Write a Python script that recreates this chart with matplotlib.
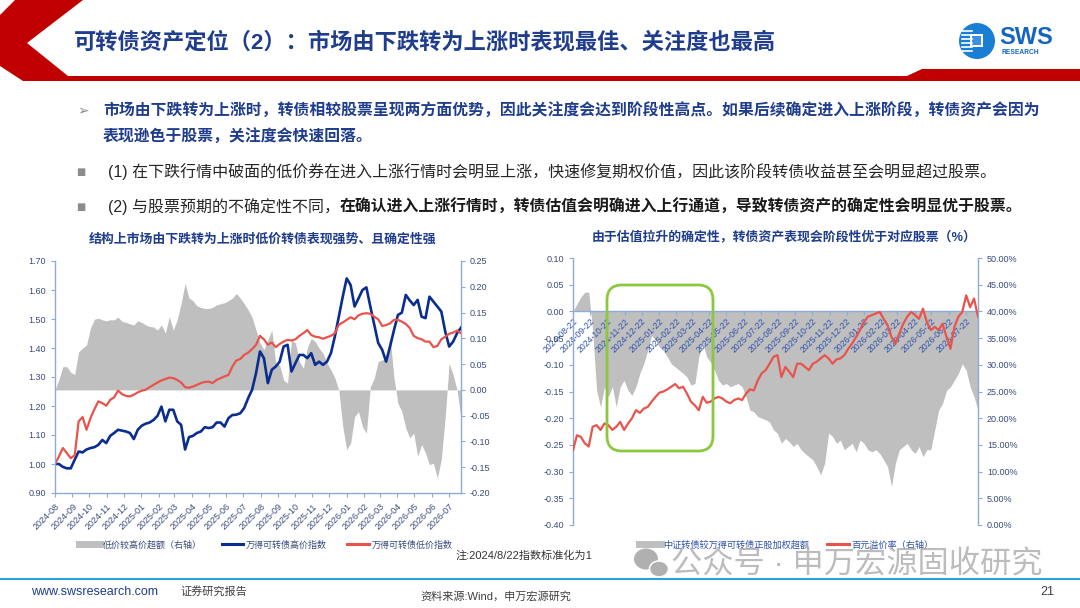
import pandas as pd
import matplotlib
matplotlib.use("Agg")
import matplotlib.pyplot as plt
from matplotlib.lines import Line2D
from matplotlib.patches import Polygon, FancyBboxPatch, Circle, Rectangle, Ellipse
from matplotlib.ticker import FormatStrFormatter, PercentFormatter

plt.rcParams['font.family'] = ['Liberation Sans', 'Noto Sans CJK SC', 'DejaVu Sans']
plt.rcParams['axes.unicode_minus'] = False

# ---- 数据（周频，2024-08-22 起） ----
months = ['2024-08', '2024-09', '2024-10', '2024-11', '2024-12', '2025-01', '2025-02', '2025-03',
          '2025-04', '2025-05', '2025-06', '2025-07', '2025-08', '2025-09', '2025-10', '2025-11',
          '2025-12', '2026-01', '2026-02', '2026-03', '2026-04', '2026-05', '2026-06', '2026-07']
right_tick_labels = [m + '-22' for m in months]

# 左图：万得可转债高价指数
high_price_idx = [1.00, 1.00, 0.99, 0.985, 0.985, 1.015, 1.043, 1.04, 1.05, 1.055,
                  1.058, 1.066, 1.083, 1.072, 1.097, 1.107, 1.118, 1.115, 1.112, 1.107,
                  1.086, 1.118, 1.132, 1.139, 1.143, 1.152, 1.166, 1.198, 1.147, 1.187,
                  1.187, 1.147, 1.135, 1.05, 1.093, 1.097, 1.107, 1.112, 1.127, 1.124,
                  1.127, 1.143, 1.143, 1.129, 1.158, 1.169, 1.17, 1.175, 1.193, 1.227,
                  1.256, 1.313, 1.388, 1.365, 1.279, 1.325, 1.336, 1.353, 1.405, 1.411,
                  1.319, 1.348, 1.376, 1.376, 1.365, 1.382, 1.342, 1.353, 1.342, 1.353,
                  1.382, 1.44, 1.508, 1.577, 1.64, 1.617, 1.543, 1.571, 1.60, 1.609,
                  1.543, 1.48, 1.417, 1.394, 1.353, 1.405, 1.462, 1.514, 1.522, 1.583,
                  1.564, 1.548, 1.566, 1.508, 1.503, 1.577, 1.56, 1.543, 1.526, 1.457,
                  1.405, 1.422, 1.451, 1.47]
# 左图：万得可转债低价指数
low_price_idx = [1.00, 1.026, 1.055, 1.038, 1.02, 1.03, 1.147, 1.162, 1.118, 1.158,
                 1.189, 1.216, 1.21, 1.201, 1.221, 1.23, 1.253, 1.241, 1.235, 1.233,
                 1.239, 1.247, 1.253, 1.256, 1.265, 1.273, 1.281, 1.288, 1.293, 1.298,
                 1.296, 1.29, 1.281, 1.265, 1.263, 1.267, 1.273, 1.279, 1.283, 1.284,
                 1.279, 1.29, 1.296, 1.302, 1.307, 1.336, 1.357, 1.362, 1.376, 1.384,
                 1.396, 1.411, 1.442, 1.43, 1.411, 1.419, 1.403, 1.414, 1.422, 1.428,
                 1.426, 1.43, 1.442, 1.451, 1.462, 1.445, 1.439, 1.437, 1.432, 1.437,
                 1.442, 1.451, 1.48, 1.488, 1.497, 1.506, 1.499, 1.513, 1.518, 1.52,
                 1.518, 1.508, 1.499, 1.476, 1.479, 1.485, 1.497, 1.497, 1.491, 1.483,
                 1.469, 1.442, 1.434, 1.43, 1.422, 1.422, 1.403, 1.407, 1.43, 1.439,
                 1.449, 1.453, 1.46, 1.451]
# 左图：低价较高价超额（右轴）
low_vs_high = [0.0, 0.02, 0.045, 0.045, 0.034, 0.03, 0.074, 0.081, 0.087, 0.12,
               0.137, 0.139, 0.136, 0.134, 0.136, 0.136, 0.141, 0.133, 0.131, 0.128,
               0.126, 0.134, 0.131, 0.126, 0.123, 0.122, 0.116, 0.126, 0.11, 0.142,
               0.116, 0.136, 0.168, 0.207, 0.178, 0.173, 0.163, 0.16, 0.158, 0.158,
               0.16, 0.165, 0.167, 0.169, 0.173, 0.178, 0.187, 0.178, 0.167, 0.155,
               0.141, 0.116, 0.091, 0.078, 0.097, 0.116, 0.052, 0.048, 0.019, 0.013,
               0.097, 0.091, 0.055, 0.042, 0.081, 0.1, 0.094, 0.081, 0.071, 0.052,
               0.039, 0.023, 0.0, -0.071, -0.116, -0.103, -0.052, -0.042, -0.071, -0.084,
               0.006, 0.023, 0.055, 0.058, 0.061, 0.103, 0.023, -0.026, -0.042, -0.074,
               -0.093, -0.084, -0.129, -0.106, -0.122, -0.145, -0.142, -0.171, -0.135, -0.052,
               0.052, 0.029, 0.0, -0.055]
# 右图：中证转债较万得可转债正股加权超额
cb_vs_stock = [0.0, 0.014, 0.027, 0.036, 0.036, -0.036, -0.148, -0.179, -0.141, -0.16,
               -0.141, -0.179, -0.141, -0.129, -0.148, -0.157, -0.141, -0.116, -0.098, -0.073,
               -0.045, -0.054, -0.067, -0.073, -0.085, -0.098, -0.104, -0.11, -0.116, -0.123,
               -0.138, -0.135, -0.085, -0.06, -0.085, -0.095, -0.11, -0.129, -0.138, -0.135,
               -0.141, -0.138, -0.135, -0.141, -0.16, -0.185, -0.188, -0.197, -0.2, -0.203,
               -0.207, -0.222, -0.228, -0.247, -0.238, -0.244, -0.253, -0.247, -0.259, -0.266,
               -0.272, -0.278, -0.291, -0.306, -0.284, -0.228, -0.234, -0.247, -0.241, -0.259,
               -0.253, -0.247, -0.263, -0.241, -0.247, -0.259, -0.263, -0.259, -0.266, -0.278,
               -0.291, -0.328, -0.284, -0.259, -0.253, -0.247, -0.259, -0.266, -0.253, -0.272,
               -0.259, -0.259, -0.222, -0.185, -0.172, -0.148, -0.141, -0.129, -0.116, -0.098,
               -0.11, -0.141, -0.16, -0.185]
# 右图：百元溢价率（右轴，%）
premium_100 = [14.0, 16.8, 16.5, 15.3, 14.7, 18.4, 18.7, 17.8, 19.0, 18.7,
               17.8, 18.4, 19.3, 17.8, 19.0, 20.0, 21.5, 21.0, 21.8, 22.1,
               23.1, 24.0, 24.8, 25.0, 25.4, 25.9, 26.4, 25.6, 25.9, 24.6,
               23.1, 22.4, 21.5, 24.0, 22.9, 23.1, 23.7, 24.0, 23.7, 23.1,
               22.8, 23.4, 23.7, 23.4, 24.6, 25.4, 25.2, 27.1, 28.4, 29.0,
               30.2, 31.5, 31.8, 27.7, 29.6, 28.7, 27.7, 30.2, 30.2, 29.6,
               29.0, 30.2, 30.6, 31.2, 31.8, 31.2, 30.2, 31.0, 31.2, 31.8,
               33.0, 34.0, 35.2, 36.5, 38.0, 39.0, 39.3, 39.6, 39.9, 38.6,
               37.4, 35.2, 34.0, 35.9, 37.7, 39.0, 39.9, 39.3, 38.6, 40.5,
               38.0, 36.5, 37.1, 36.5, 37.7, 35.2, 33.0, 37.1, 39.0, 39.9,
               43.0, 40.8, 42.4, 39.0]

dates = pd.date_range('2024-08-22', periods=len(high_price_idx), freq='7D')
tick_dates = pd.to_datetime(right_tick_labels)

# ---- 样式 ----
NAVY = '#1f3d8c'
BLUE = '#0a2d8f'
RED = '#e8544c'
GRAY = '#bfbfbf'
SPINE = '#8eaad6'
TICK = '#3c4a7a'
LEG = '#2f52ad'

W, H = 1080, 608
fig = plt.figure(figsize=(10.8, 6.08), dpi=100)
fig.patch.set_facecolor('white')

bg = fig.add_axes([0, 0, 1, 1], zorder=0)
bg.set_xlim(0, W)
bg.set_ylim(H, 0)
bg.axis('off')


def fig_rect(x0, y0, x1, y1):
    return [x0 / W, 1 - y1 / H, (x1 - x0) / W, (y1 - y0) / H]


# 页眉
bg.add_patch(Polygon([(15, 0), (83, 0), (27, 43), (68, 76), (907, 76), (922, 69),
                      (1080, 69), (1080, 81), (23, 81), (0, 66), (0, 15)],
                     closed=True, fc='#c00000', ec='none'))
bg.text(74, 43, '可转债资产定位（2）：市场由下跌转为上涨时表现最佳、关注度也最高',
        fontsize=16, weight='bold', color=NAVY, va='center')

# SWS logo
bg.add_patch(Circle((977, 41), 18, fc='#1a7fd4', ec='none'))
for yy in [31, 35, 39, 43, 47, 51]:
    bg.plot([962, 972], [yy, yy], color='white', lw=1.2)
bg.add_patch(Rectangle((970, 34), 13, 13, fc='white', ec='none'))
bg.add_patch(Rectangle((972, 36), 9, 9, fc='#3d8fe0', ec='none'))
bg.text(999, 37, 'SWS', fontsize=17, weight='bold', color='#1565c0', va='center')
bg.text(1001, 52, 'RESEARCH', fontsize=4.8, weight='bold', color='#1565c0', va='center')

# 正文要点
bg.text(77, 111, '➢', fontsize=10, color='#8c8c8c', va='center',
        family=['DejaVu Sans'])
bg.text(103, 111, '市场由下跌转为上涨时，转债相较股票呈现两方面优势，因此关注度会达到阶段性高点。如果后续确定进入上涨阶段，转债资产会因为',
        fontsize=11.4, weight='bold', color=NAVY, va='center')
bg.text(103, 137, '表现逊色于股票，关注度会快速回落。',
        fontsize=11.4, weight='bold', color=NAVY, va='center')
for yy in [172, 207]:
    bg.text(76, yy, '■', fontsize=7, color='#8c8c8c', va='center',
            family=['DejaVu Sans'])
bg.text(108, 172, '(1) 在下跌行情中破面的低价券在进入上涨行情时会明显上涨，快速修复期权价值，因此该阶段转债收益甚至会明显超过股票。',
        fontsize=11.5, color='#262626', va='center')
t1 = bg.text(108, 207, '(2) 与股票预期的不确定性不同，', fontsize=11.5, color='#262626', va='center')
bg.annotate('在确认进入上涨行情时，转债估值会明确进入上行通道，导致转债资产的确定性会明显优于股票。',
            xy=(1, 0.5), xycoords=t1, va='center', ha='left',
            fontsize=11.4, weight='bold', color='#1a1a1a')

# 图表标题
bg.text(263, 240, '结构上市场由下跌转为上涨时低价转债表现强势、且确定性强',
        fontsize=9.3, weight='bold', color=NAVY, ha='center', va='center')
bg.text(784, 237, '由于估值拉升的确定性，转债资产表现会阶段性优于对应股票（%）',
        fontsize=9.3, weight='bold', color=NAVY, ha='center', va='center')

# ---- 左图 ----
ax1 = fig.add_axes(fig_rect(55, 261, 461, 493), zorder=2)
ax1r = ax1.twinx()
ax1r.fill_between(dates, 0, low_vs_high, color=GRAY, lw=0)
ax1.plot(dates, high_price_idx, color=BLUE, lw=1.9)
ax1.plot(dates, low_price_idx, color=RED, lw=1.6)
ax1.set_zorder(ax1r.get_zorder() + 1)
ax1.patch.set_visible(False)

ax1.set_xlim(dates[0], dates[-1])
ax1.set_ylim(0.9, 1.7)
ax1.set_yticks([0.9 + 0.1 * i for i in range(9)])
ax1.yaxis.set_major_formatter(FormatStrFormatter('%.2f'))
ax1r.set_ylim(-0.20, 0.25)
ax1r.set_yticks([-0.20 + 0.05 * i for i in range(10)])
ax1r.yaxis.set_major_formatter(FormatStrFormatter('%.2f'))
ax1.set_xticks(tick_dates)
ax1.set_xticklabels(months, rotation=45, ha='right', rotation_mode='anchor')

for a in (ax1, ax1r):
    for s in a.spines.values():
        s.set_color(SPINE)
        s.set_linewidth(1)
    a.spines['top'].set_visible(False)
    a.tick_params(colors=SPINE, labelcolor=TICK, labelsize=6.5, length=3, width=0.8)
ax1.spines['right'].set_visible(False)
ax1r.spines['left'].set_visible(False)
ax1r.spines['bottom'].set_visible(False)

fig.legend([Line2D([], [], color=GRAY, lw=5), Line2D([], [], color=BLUE, lw=2.2),
            Line2D([], [], color=RED, lw=2.2)],
           ['低价较高价超额（右轴）', '万得可转债高价指数', '万得可转债低价指数'],
           loc='center left', bbox_to_anchor=(74 / W, 1 - 545 / H), ncol=3, frameon=False,
           fontsize=6.5, handlelength=2.4, handletextpad=0.3, columnspacing=2.2,
           labelcolor=TICK, borderpad=0)

# ---- 右图 ----
ax2 = fig.add_axes(fig_rect(573, 258, 978, 525), zorder=2)
ax2.fill_between(dates, 0, cb_vs_stock, color=GRAY, lw=0)
ax2r = ax2.twinx()
ax2r.plot(dates, premium_100, color=RED, lw=1.6)

ax2.set_xlim(dates[0], dates[-1])
ax2.set_ylim(-0.40, 0.10)
ax2.set_yticks([-0.40 + 0.05 * i for i in range(11)])
ax2.yaxis.set_major_formatter(FormatStrFormatter('%.2f'))
ax2r.set_ylim(0, 50)
ax2r.set_yticks([5 * i for i in range(11)])
ax2r.yaxis.set_major_formatter(PercentFormatter(xmax=100, decimals=2))
ax2.spines['bottom'].set_position(('data', 0))
ax2.set_xticks(tick_dates)
ax2.set_xticklabels(right_tick_labels, rotation=45, ha='right', rotation_mode='anchor')

for a in (ax2, ax2r):
    for s in a.spines.values():
        s.set_color(SPINE)
        s.set_linewidth(1)
    a.spines['top'].set_visible(False)
    a.tick_params(colors=SPINE, labelcolor=TICK, labelsize=6.5, length=3, width=0.8)
ax2.tick_params(axis='x', labelcolor=LEG, labelsize=6.2, pad=1)
ax2.spines['right'].set_visible(False)
ax2r.spines['left'].set_visible(False)
ax2r.spines['bottom'].set_visible(False)

fig.legend([Line2D([], [], color=GRAY, lw=5), Line2D([], [], color=RED, lw=2.2)],
           ['中证转债较万得可转债正股加权超额', '百元溢价率（右轴）'],
           loc='center left', bbox_to_anchor=(634 / W, 1 - 545 / H), ncol=2, frameon=False,
           fontsize=6.6, handlelength=2.4, handletextpad=0.3, columnspacing=1.9,
           labelcolor=LEG, borderpad=0)

# ---- 前景：框线、水印、页脚 ----
fg = fig.add_axes([0, 0, 1, 1], zorder=10)
fg.set_xlim(0, W)
fg.set_ylim(H, 0)
fg.axis('off')
fg.patch.set_visible(False)

fg.add_patch(FancyBboxPatch((607, 285), 106, 166, boxstyle='round,pad=0,rounding_size=15',
                            ec='#8dc63f', fc='none', lw=2))

fg.add_patch(Ellipse((646, 559), 24, 21, fc='#a3a3a3', ec='none', alpha=0.85))
fg.add_patch(Ellipse((659, 569), 19, 16, fc='#adadad', ec='white', lw=1.2, alpha=0.95))
fg.text(671, 565, '公众号 · 申万宏源固收研究', fontsize=22.5, color='#a6a6a6',
        alpha=0.75, va='center')

bg.text(456, 556, '注:2024/8/22指数标准化为1', fontsize=8, color='#333333', va='center')

bg.plot([0, W], [579, 579], color='#29a3dc', lw=1.5)
bg.text(31, 592, 'www.swsresearch.com', fontsize=9, color=NAVY, va='center')
bg.text(180, 591, '证券研究报告', fontsize=8, color='#404040', va='center')
bg.text(420, 596, '资料来源:Wind，申万宏源研究', fontsize=8, color='#404040', va='center')
bg.text(1040, 592, '21', fontsize=9, color='#404040', va='center')

fig.savefig('out.png', dpi=100)
